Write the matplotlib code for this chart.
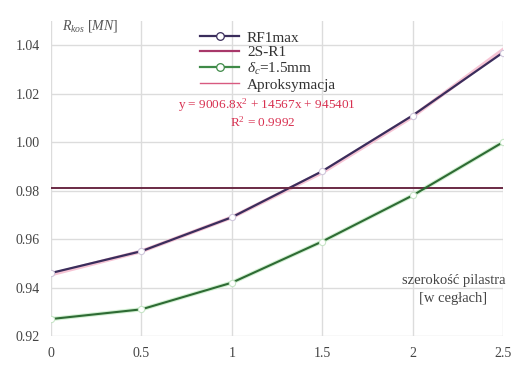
import numpy as np
import matplotlib.pyplot as plt

plt.rcParams['font.family'] = ['Liberation Serif', 'DejaVu Serif']
plt.rcParams['mathtext.fontset'] = 'custom'
plt.rcParams['mathtext.rm'] = 'Liberation Serif'
plt.rcParams['mathtext.it'] = 'Liberation Serif:italic'

# szerokość pilastra [w cegłach]
x = [0, 0.5, 1, 1.5, 2, 2.5]
rf1max = [0.946, 0.955, 0.969, 0.988, 1.011, 1.037]
delta_15 = [0.927, 0.931, 0.942, 0.959, 0.978, 1.000]
s2_r1 = 0.981

# y = a x^2 + b x + c  [N]
fit_coef = [9006.8, 14567, 945401]
fit_r2 = 0.9992

yticks = [0.92, 0.94, 0.96, 0.98, 1.00, 1.02, 1.04]
ytick_labels = ['0.92', '0.94', '0.96', '0.98', '1.00', '1.02', '1.04']
xticks = [0, 0.5, 1, 1.5, 2, 2.5]
xtick_labels = ['0', '0.5', '1', '1.5', '2', '2.5']

fig = plt.figure(figsize=(5.12, 3.67), dpi=100)
ax = fig.add_axes([51 / 512, 1 - 336 / 367, 452 / 512, 315 / 367])

fit_y = np.polyval(fit_coef, np.array(x)) / 1e6
ax.plot(x, fit_y, color='#f6c4d4', lw=2.8, zorder=2)
ax.plot(x, rf1max, color='#3a2d5c', lw=1.6, marker='o', ms=4.5,
        mfc='white', mec='#d0c8dc', mew=0.8, zorder=3)
ax.axhline(s2_r1, color='#6a2a44', lw=1.4, zorder=3)
ax.plot(x, delta_15, color='#d2f0d2', lw=3.0, zorder=2)
ax.plot(x, delta_15, color='#2e6b34', lw=1.5, marker='o', ms=4.5,
        mfc='white', mec='#c8e6c8', mew=0.8, zorder=3)

# legend handles
h1, = ax.plot([], [], color='#3a2d5c', lw=1.6, marker='o', ms=5.5,
              mfc='white', mec='#3a2d5c', mew=0.9)
h2, = ax.plot([], [], color='#a8386a', lw=1.6)
h3, = ax.plot([], [], color='#3f8a48', lw=1.6, marker='o', ms=5.5,
              mfc='white', mec='#3f8a48', mew=0.9)
h4, = ax.plot([], [], color='#d85a80', lw=1.0)
leg = ax.legend([h1, h2, h3, h4],
                ['RF1max', '2S-R1', r'$\delta_c$=1.5mm', 'Aproksymacja'],
                loc='upper left', bbox_to_anchor=(0.312, 0.993),
                frameon=False, fontsize=11, handlelength=2.6,
                handletextpad=0.5, labelspacing=0.08, borderpad=0)
for t in leg.get_texts():
    t.set_color('#333333')

ax.text(0.478, 0.733, 'y = 9006.8x$^2$ + 14567x + 945401', color='#d83050',
        fontsize=9.5, ha='center', va='center', transform=ax.transAxes)
ax.text(0.468, 0.679, f'R$^2$ = {fit_r2}', color='#d83050',
        fontsize=9.5, ha='center', va='center', transform=ax.transAxes)

ax.text(0.025, 0.985, r'$R_{kos}\ [MN]$', fontsize=10, color='#555555',
        ha='left', va='center', transform=ax.transAxes)
ax.text(0.89, 0.147, 'szerokość pilastra\n[w cegłach]', fontsize=10.5,
        color='#444444', ha='center', va='center', linespacing=1.45,
        transform=ax.transAxes)

ax.set_xlim(0, 2.5)
ax.set_ylim(0.92, 1.05)
ax.set_xticks(xticks)
ax.set_xticklabels(xtick_labels)
ax.set_yticks(yticks)
ax.set_yticklabels(ytick_labels)
ax.tick_params(length=0, labelsize=10, labelcolor='#444444', pad=8)
ax.grid(True, color='#dcdcdc', lw=1.0)
for s in ax.spines.values():
    s.set_visible(False)

fig.savefig('out.png', dpi=100)
